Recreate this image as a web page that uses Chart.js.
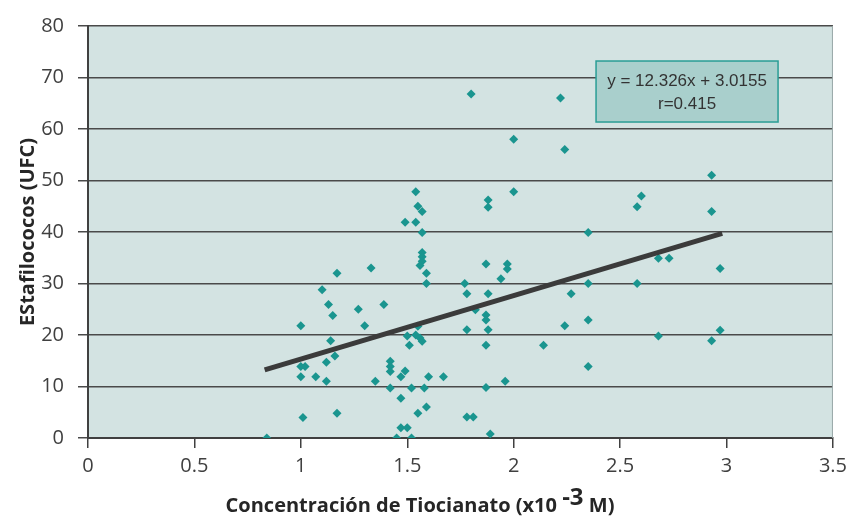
<!DOCTYPE html>
<html>
<head>
<meta charset="utf-8">
<script src="https://cdn.jsdelivr.net/npm/chart.js@4.4.1/dist/chart.umd.min.js"></script>
<style>
  html, body { margin: 0; padding: 0; background: #fff; }
  #wrap { width: 853px; height: 518px; }
</style>
</head>
<body>
<div id="wrap"><canvas id="staphChart" width="853" height="518"></canvas></div>
<script>
// concentracion de tiocianato (x10^-3 M)
const concentracion = [
  0.84, 1.00, 1.00, 1.02, 1.00, 1.01, 1.07, 1.10, 1.13, 1.15,
  1.12, 1.14, 1.16, 1.12, 1.17, 1.17, 1.27, 1.30, 1.33, 1.35,
  1.39, 1.42, 1.42, 1.42, 1.42, 1.47, 1.49, 1.47, 1.47, 1.50,
  1.45, 1.52, 1.52, 1.55, 1.59, 1.58, 1.60, 1.67, 1.49, 1.54,
  1.54, 1.55, 1.57, 1.57, 1.57, 1.57, 1.57, 1.56, 1.59, 1.59,
  1.55, 1.50, 1.54, 1.56, 1.57, 1.51, 1.77, 1.78, 1.78, 1.78,
  1.81, 1.80, 1.82, 1.87, 1.87, 1.87, 1.87, 1.87, 1.88, 1.88,
  1.88, 1.88, 1.89, 1.94, 1.97, 1.97, 1.96, 2.00, 2.00, 2.14,
  2.22, 2.24, 2.24, 2.27, 2.35, 2.35, 2.35, 2.35, 2.58, 2.60,
  2.58, 2.68, 2.73, 2.68, 2.93, 2.93, 2.97, 2.97, 2.93
];
// estafilococos (UFC)
const estafilococos = [
  0, 21.8, 13.9, 13.9, 11.9, 4.0, 11.9, 28.8, 25.9, 23.8,
  11.0, 18.9, 15.9, 14.7, 32.0, 4.8, 25.0, 21.8, 33.0, 11.0,
  25.9, 14.9, 13.9, 12.9, 9.7, 11.9, 13.0, 7.7, 2.0, 2.0,
  0, 0, 9.7, 4.8, 6.0, 9.7, 11.9, 11.9, 41.9, 41.9,
  47.8, 45.0, 44.0, 39.9, 36.0, 35.2, 34.3, 33.5, 32.0, 30.0,
  21.7, 19.8, 20.0, 19.4, 18.8, 18.0, 30.0, 28.0, 21.0, 4.1,
  4.1, 66.8, 24.9, 23.9, 22.9, 33.8, 18.0, 9.8, 28.0, 21.0,
  46.2, 44.8, 0.8, 30.9, 32.8, 33.8, 11.0, 58.0, 47.8, 18.0,
  66.0, 56.0, 21.8, 28.0, 39.9, 30.0, 22.9, 13.9, 44.9, 47.0,
  30.0, 34.9, 34.9, 19.8, 51.0, 44.0, 32.9, 20.9, 18.9
];
// trend line from the equation printed on the chart
const pendiente = 12.326;
const intercepto = 3.0155;
const trendX = [0.83, 2.98];
const ecuacionLabel = ['y = 12.326x + 3.0155', 'r=0.415'];
const xTicks = [0, 0.5, 1, 1.5, 2, 2.5, 3, 3.5];
const xTickLabels = ['0', '0.5', '1', '1.5', '2', '2.5', '3', '3.5'];
const yTicks = [0, 10, 20, 30, 40, 50, 60, 70, 80];

const puntos = concentracion.map((c, i) => ({ x: c, y: estafilococos[i] }));
const tendencia = trendX.map(x => ({ x: x, y: pendiente * x + intercepto }));

const textColor = '#404040';
const tickFont = { family: 'Open Sans', size: 20 };

const plotBackground = {
  id: 'plotBackground',
  beforeDraw(chart) {
    const { ctx, chartArea: a } = chart;
    ctx.save();
    ctx.fillStyle = '#d3e3e2';
    ctx.fillRect(a.left, a.top, a.right - a.left, a.bottom - a.top);
    ctx.restore();
  },
  afterDraw(chart) {
    const { ctx, chartArea: a, scales } = chart;
    ctx.save();
    // right edge of plot area
    ctx.strokeStyle = '#9aa8a8';
    ctx.lineWidth = 1;
    ctx.beginPath();
    ctx.moveTo(a.right - 0.5, a.top);
    ctx.lineTo(a.right - 0.5, a.bottom);
    ctx.stroke();

    // equation box
    const bx = scales.x.getPixelForValue(2.387);
    const by = scales.y.getPixelForValue(73.2);
    const bw = 182, bh = 61;
    ctx.fillStyle = '#a9cfcc';
    ctx.fillRect(bx, by, bw, bh);
    ctx.strokeStyle = '#2a9d95';
    ctx.lineWidth = 1.5;
    ctx.strokeRect(bx, by, bw, bh);
    ctx.fillStyle = '#333';
    ctx.font = '17px "Liberation Sans", Arial, sans-serif';
    ctx.textAlign = 'center';
    ctx.textBaseline = 'middle';
    ctx.fillText(ecuacionLabel[0], bx + bw / 2, by + 20);
    ctx.fillText(ecuacionLabel[1], bx + bw / 2, by + 43);

    // y axis title
    ctx.fillStyle = '#262626';
    ctx.font = 'bold 20px "Open Sans", sans-serif';
    ctx.translate(28, (a.top + a.bottom) / 2);
    ctx.rotate(-Math.PI / 2);
    ctx.fillText('EStafilococos (UFC)', 0, 0);
    ctx.setTransform(1, 0, 0, 1, 0, 0);

    // x axis title with superscript
    const parts = ['Concentración de Tiocianato (x10 ', '-3', ' M)'];
    const f1 = 'bold 20px "Open Sans", sans-serif';
    const f2 = 'bold 24px "Open Sans", sans-serif';
    ctx.textAlign = 'left';
    ctx.textBaseline = 'alphabetic';
    ctx.font = f1;
    const w0 = ctx.measureText(parts[0]).width;
    const w2 = ctx.measureText(parts[2]).width;
    ctx.font = f2;
    const w1 = ctx.measureText(parts[1]).width;
    let x0 = 420 - (w0 + w1 + w2) / 2;
    const base = 512;
    ctx.font = f1;
    ctx.fillText(parts[0], x0, base);
    ctx.font = f2;
    ctx.fillText(parts[1], x0 + w0, base - 7);
    ctx.font = f1;
    ctx.fillText(parts[2], x0 + w0 + w1, base);
    ctx.restore();
  }
};

const ctx = document.getElementById('staphChart').getContext('2d');
const staphChart = new Chart(ctx, {
  data: {
    datasets: [{
      type: 'line',
      label: 'tendencia',
      data: tendencia,
      borderColor: '#3b3b3b',
      borderWidth: 5,
      pointRadius: 0,
      fill: false,
      order: 0
    }, {
      type: 'scatter',
      label: 'muestras',
      data: puntos,
      pointStyle: 'rectRot',
      pointRadius: 4.5,
      backgroundColor: '#1a958f',
      borderColor: '#1a958f',
      borderWidth: 0,
      order: 1
    }]
  },
  options: {
    responsive: false,
    animation: false,
    layout: { padding: { left: 0, right: 17, top: 24, bottom: 0 } },
    plugins: {
      legend: { display: false },
      tooltip: { enabled: false }
    },
    scales: {
      x: {
        type: 'linear',
        min: 0,
        max: 3.5,
        afterBuildTicks: (s) => { s.ticks = xTicks.map(v => ({ value: v })); },
        afterFit: (s) => { s.height = 80; },
        grid: { drawOnChartArea: false, drawTicks: true, tickLength: 10, color: '#404040', lineWidth: 1.5 },
        border: { color: '#404040', width: 2 },
        ticks: {
          font: tickFont,
          color: textColor,
          padding: 6,
          callback: (v) => xTickLabels[xTicks.indexOf(v)]
        }
      },
      y: {
        min: 0,
        max: 80,
        afterBuildTicks: (s) => { s.ticks = yTicks.map(v => ({ value: v })); },
        afterFit: (s) => { s.width = 88; },
        grid: { color: '#4a4a4a', lineWidth: 1.5, tickLength: 10 },
        border: { color: '#404040', width: 2 },
        ticks: { font: tickFont, color: textColor, padding: 14 }
      }
    }
  },
  plugins: [plotBackground]
});
</script>
</body>
</html>
